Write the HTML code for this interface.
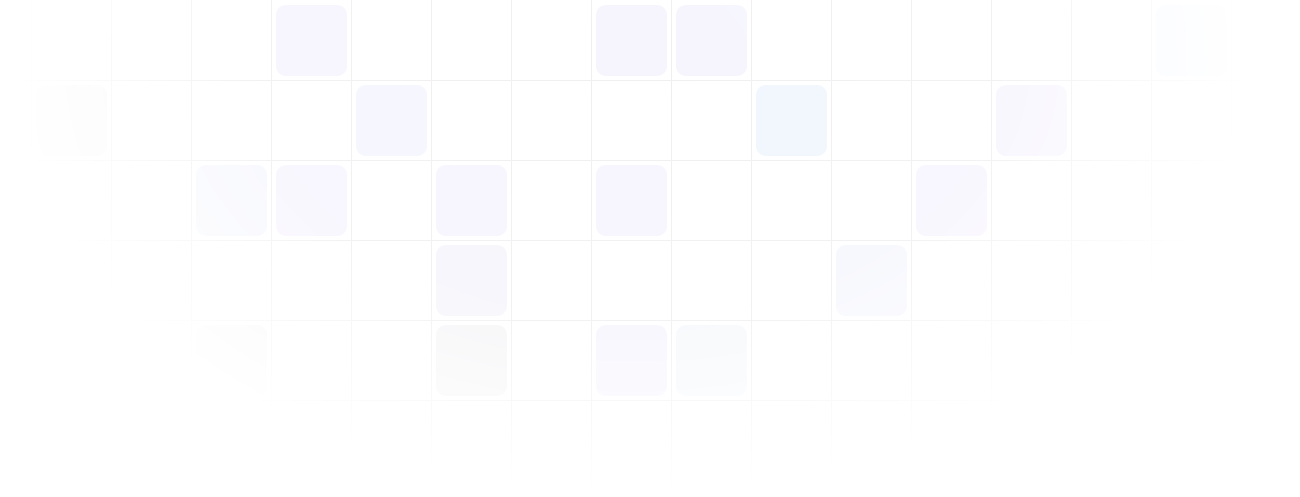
<!DOCTYPE html>
<html><head><meta charset="utf-8"><style>
html,body{margin:0;padding:0;background:#fff;width:1300px;height:497px;overflow:hidden;font-family:"Liberation Sans",sans-serif}
</style></head><body>
<svg width="1300" height="497" viewBox="0 0 1300 497" xmlns="http://www.w3.org/2000/svg">
<defs>
<radialGradient id="fade" cx="630" cy="60" r="620" gradientUnits="userSpaceOnUse" gradientTransform="translate(630 60) scale(1 0.7) translate(-630 -60)">
<stop offset="0" stop-color="#fff" stop-opacity="1"/>
<stop offset="0.6" stop-color="#fff" stop-opacity="0.85"/>
<stop offset="1" stop-color="#fff" stop-opacity="0"/>
</radialGradient>
<mask id="m"><rect width="1300" height="497" fill="url(#fade)"/></mask>
</defs>
<g mask="url(#m)">
<g id="grid" stroke="#efefef" stroke-width="1"></g>
<g id="tiles"></g>
</g>
</svg>
<script>
const tiles=[[0,3,'#f6f5fe'],[0,7,'#f6f5fe'],[0,8,'#f6f5fe'],[0,14,'#f5f8fe'],
[1,0,'#f7f7f7'],[1,4,'#f5f6fe'],[1,9,'#f1f6fe'],[1,12,'#f7f5fe'],
[2,2,'#f6f7fd'],[2,3,'#f7f5fe'],[2,5,'#f6f5fe'],[2,7,'#f6f5fe'],[2,11,'#f7f5fe'],
[3,5,'#f6f5fb'],[3,10,'#f6f7fd'],
[4,2,'#f6f6f6'],[4,5,'#f5f5f7'],[4,7,'#f6f5fe'],[4,8,'#f6f8fb']];
const NS='http://www.w3.org/2000/svg';
const g=document.getElementById('grid');
for(let i=0;i<16;i++){const x=31+80*i+0.5;const l=document.createElementNS(NS,'line');


l.setAttribute('x1',x);l.setAttribute('x2',x);l.setAttribute('y1',0);l.setAttribute('y2',497);g.appendChild(l);}
for(let j=1;j<=5;j++){const y=80*j+0.5;const l=document.createElementNS(NS,'line');


l.setAttribute('x1',0);l.setAttribute('x2',1300);l.setAttribute('y1',y);l.setAttribute('y2',y);g.appendChild(l);}
const t=document.getElementById('tiles');
tiles.forEach(([r,c,col])=>{const rc=document.createElementNS(NS,'rect');


rc.setAttribute('x',36+80*c);rc.setAttribute('y',5+80*r);rc.setAttribute('width',71);rc.setAttribute('height',71);
rc.setAttribute('rx',10);rc.setAttribute('fill',col);t.appendChild(rc);});
</script>
</body></html>
